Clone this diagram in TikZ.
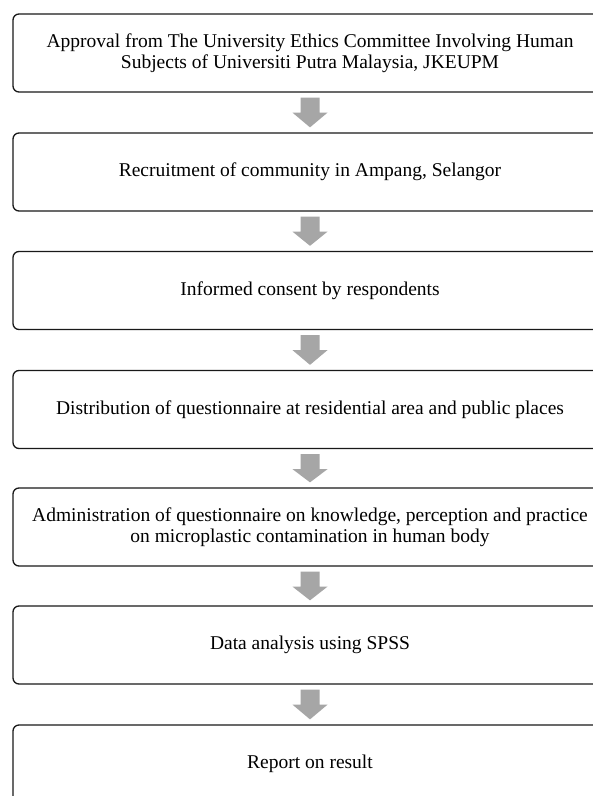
\documentclass[tikz,border=0pt]{standalone}
\usepackage{fontspec}
\setmainfont{Liberation Serif}
\usetikzlibrary{calc}
\definecolor{arrowgrey}{HTML}{A6A6A6}
\tikzset{
  stepbox/.style={draw=black!90, line width=1.3pt, rounded corners=6pt,
    minimum width=594pt, minimum height=78pt, align=center,
    font=\fontsize{19.5}{21}\selectfont, inner sep=0pt},
  blockarrow/.style={fill=arrowgrey, draw=none}
}
\newcommand{\flowarrow}[2]{%
  \fill[blockarrow] ($(#1.south)+(-9.5,5)$) -- ($(#1.south)+(9.5,5)$)
    -- ($(#1.south)+(9.5,20)$) -- ($(#1.south)+(17.5,20)$)
    -- ($(#2.north)+(0,-5)$) -- ($(#1.south)+(-17.5,20)$)
    -- ($(#1.south)+(-9.5,20)$) -- cycle;}
\begin{document}
\begin{tikzpicture}[x=1pt,y=-1pt]
\useasboundingbox (0,0) rectangle (593,796);
\clip (0,0) rectangle (593,796);
\fill[white] (0,0) rectangle (593,796);
\node[stepbox] (b1) at (310,53) {Approval from The University Ethics Committee Involving Human\\Subjects of Universiti Putra Malaysia, JKEUPM};
\node[stepbox] (b2) at (310,172) {Recruitment of community in Ampang, Selangor};
\node[stepbox] (b3) at (310,290.5) {Informed consent by respondents};
\node[stepbox] (b4) at (310,409.5) {Distribution of questionnaire at residential area and public places};
\node[stepbox] (b5) at (310,527) {Administration of questionnaire on knowledge, perception and practice\\on microplastic contamination in human body};
\node[stepbox] (b6) at (310,645) {Data analysis using SPSS};
\node[stepbox] (b7) at (310,764) {Report on result};
\flowarrow{b1}{b2}
\flowarrow{b2}{b3}
\flowarrow{b3}{b4}
\flowarrow{b4}{b5}
\flowarrow{b5}{b6}
\flowarrow{b6}{b7}
\end{tikzpicture}
\end{document}
